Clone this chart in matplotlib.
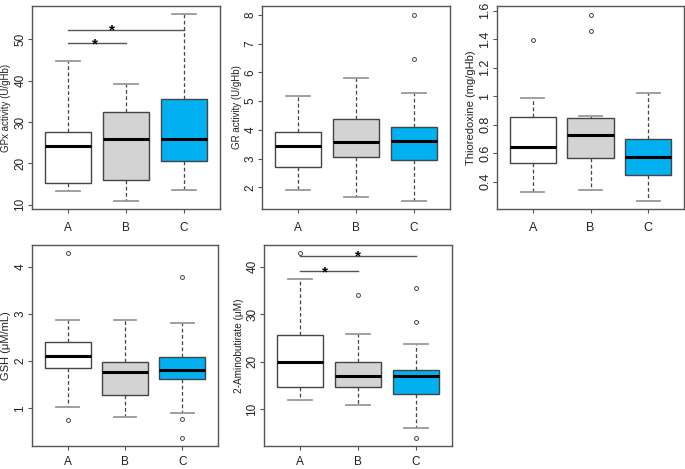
import matplotlib
matplotlib.use("Agg")
import matplotlib.pyplot as plt

plt.rcParams['font.family'] = ['Liberation Sans', 'DejaVu Sans']

groups = ["A", "B", "C"]
fills = ["white", "#D3D3D3", "#00B0F0"]

# whislo, q1, med, q3, whishi per group
gpx = [[13.4, 15.3, 24.3, 27.5, 44.7], [11.0, 16.0, 26.0, 32.3, 39.2], [13.5, 20.5, 26.0, 35.6, 56.0]]
gpx_out = [[], [], []]

gr = [[1.91, 2.71, 3.45, 3.94, 5.17], [1.68, 3.05, 3.58, 4.37, 5.82], [1.52, 2.97, 3.61, 4.11, 5.27]]
gr_out = [[], [], [6.46, 8.0]]

trx = [[0.33, 0.53, 0.64, 0.856, 0.99], [0.34, 0.564, 0.73, 0.847, 0.863], [0.264, 0.447, 0.571, 0.70, 1.019]]
trx_out = [[1.395], [1.46, 1.57], []]

gsh = [[1.02, 1.85, 2.10, 2.41, 2.88], [0.82, 1.29, 1.77, 1.99, 2.88], [0.90, 1.62, 1.82, 2.09, 2.81]]
gsh_out = [[4.29, 0.75], [], [3.79, 0.78, 0.36]]

amb = [[11.9, 14.6, 20.0, 25.6, 37.5], [10.8, 14.7, 17.1, 19.9, 25.8], [6.0, 13.2, 17.0, 18.3, 23.8]]
amb_out = [[42.95], [34.0], [35.6, 28.3, 3.9]]

# significance brackets: (from, to, height, star x)
gpx_sig = [(1, 2, 49.0, 1.47), (1, 3, 52.3, 1.76)]
amb_sig = [(1, 2, 39.1, 1.43), (1, 3, 42.3, 2.0)]

W, H = 685, 469
fig = plt.figure(figsize=(W / 100, H / 100), dpi=100)


def panel(px, stats, outl, ylabel, ylim, yticks, lab_size, tick_size=8.5, xpad=6, sig=None):
    l, t, r, b = px
    ax = fig.add_axes([l / W, 1 - b / H, (r - l) / W, (b - t) / H])
    bstats = []
    for g, s, o in zip(groups, stats, outl):
        bstats.append(dict(label=g, whislo=s[0], q1=s[1], med=s[2], q3=s[3], whishi=s[4], fliers=o))
    res = ax.bxp(bstats, positions=[1, 2, 3], widths=0.8, patch_artist=True, capwidths=0.4,
                 boxprops=dict(edgecolor="#444444", linewidth=1.0),
                 medianprops=dict(color="black", linewidth=2.2),
                 whiskerprops=dict(color="#444444", linestyle=(0, (3, 2)), linewidth=0.9),
                 capprops=dict(color="#999999", linewidth=1.3),
                 flierprops=dict(marker="o", markersize=2.8, markerfacecolor="white",
                                 markeredgecolor="#444444", markeredgewidth=0.7))
    for patch, c in zip(res["boxes"], fills):
        patch.set_facecolor(c)
    ax.set_xlim(0.38, 3.62)
    ax.set_ylim(*ylim)
    ax.set_yticks(yticks)
    ax.set_yticklabels([f"{v:g}" for v in yticks], rotation=90, va="center")
    ax.set_ylabel(ylabel, fontsize=lab_size, color="#222222")
    ax.yaxis.set_label_coords(-20.5 / (r - l), 0.5)
    ax.tick_params(labelsize=tick_size, length=3, color="#555555", labelcolor="#222222")
    ax.tick_params(axis="y", pad=1)
    ax.tick_params(axis="x", pad=xpad)
    for sp in ax.spines.values():
        sp.set_color("#555555")
        sp.set_linewidth(1.0)
    if sig:
        for g0, g1, h, sx in sig:
            ax.plot([g0, g1], [h, h], color="#555555", linewidth=1.0)
            ax.annotate("*", (sx, h), xytext=(0, -3.5), textcoords="offset points",
                        ha="center", va="baseline", fontsize=11, fontweight="bold")
    return ax


panel((32, 6, 220, 209), gpx, gpx_out, "GPx activity (U/gHb)", (9.0, 58.0), [10, 20, 30, 40, 50],
      7.0, sig=gpx_sig)
panel((262, 6, 450, 209), gr, gr_out, "GR activity (U/gHb)", (1.25, 8.31), [2, 3, 4, 5, 6, 7, 8], 7.0)
panel((497, 6, 684, 209), trx, trx_out, "Thioredoxine (mg/gHb)", (0.208, 1.633),
      [0.4, 0.6, 0.8, 1.0, 1.2, 1.4, 1.6], 8.0, tick_size=9)
panel((32, 245, 218, 446), gsh, gsh_out, "GSH (\u03bcM/mL)", (0.20, 4.46), [1, 2, 3, 4], 8.0, xpad=4)
panel((264, 245, 452, 446), amb, amb_out, "2-Aminobutirate (\u03bcM)", (2.27, 44.6), [10, 20, 30, 40],
      7.2, xpad=4, sig=amb_sig)

fig.savefig("out.png", dpi=100)
